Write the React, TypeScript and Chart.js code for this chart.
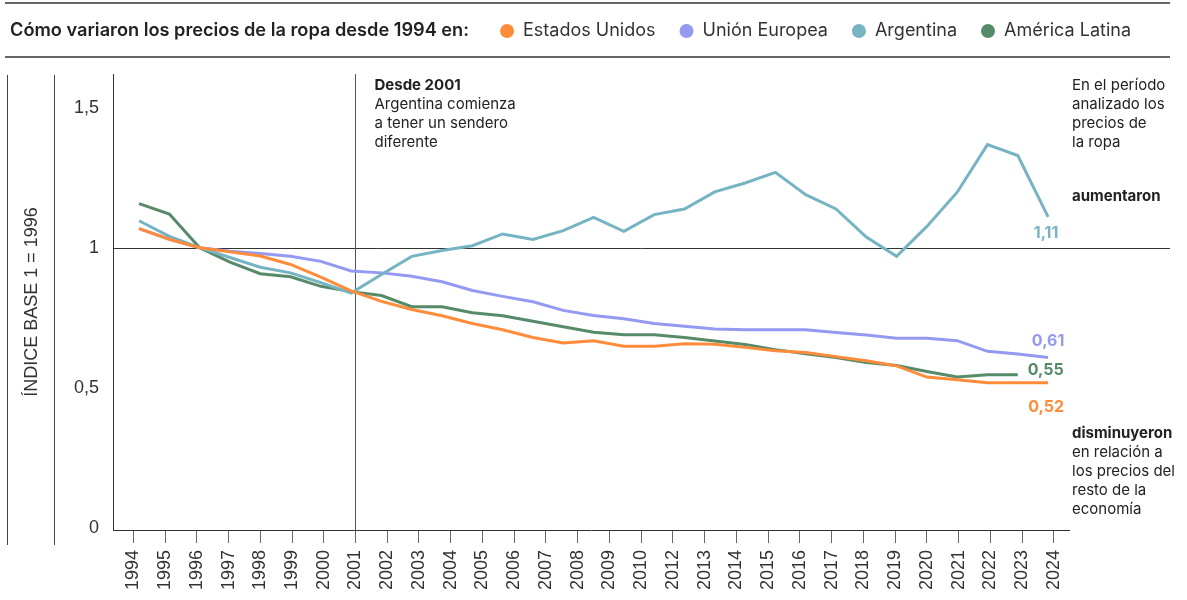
import React, { useEffect, useRef } from "react";
import { Chart, registerables } from "chart.js";

Chart.register(...registerables);

// ---- data ----
const years = [
  1994, 1995, 1996, 1997, 1998, 1999, 2000, 2001, 2002, 2003, 2004, 2005, 2006, 2007, 2008, 2009,
  2010, 2011, 2012, 2013, 2014, 2015, 2016, 2017, 2018, 2019, 2020, 2021, 2022, 2023, 2024,
];
const tickLabels = [
  "1994", "1995", "1996", "1997", "1998", "1999", "2000", "2001", "2002", "2003", "2004", "2005",
  "2006", "2007", "2008", "2009", "2010", "2012", "2013", "2014", "2015", "2016", "2017", "2018",
  "2019", "2020", "2021", "2022", "2023", "2024",
];
const estadosUnidos = [
  1.068, 1.03, 1.0, 0.985, 0.97, 0.94, 0.895, 0.846, 0.808, 0.779, 0.757, 0.729, 0.707, 0.679, 0.66,
  0.668, 0.648, 0.648, 0.657, 0.655, 0.644, 0.632, 0.626, 0.611, 0.596, 0.578, 0.538, 0.528, 0.518,
  0.518, 0.518,
];
const unionEuropea = [
  1.068, 1.03, 1.0, 0.987, 0.979, 0.969, 0.951, 0.917, 0.91, 0.898, 0.878, 0.847, 0.826, 0.807,
  0.776, 0.758, 0.746, 0.729, 0.719, 0.71, 0.707, 0.707, 0.707, 0.697, 0.688, 0.677, 0.677, 0.668,
  0.63, 0.62, 0.608,
];
const argentina = [
  1.096, 1.04, 1.0, 0.965, 0.93, 0.91, 0.875, 0.838, 0.904, 0.969, 0.99, 1.007, 1.049, 1.029, 1.061,
  1.108, 1.058, 1.118, 1.138, 1.199, 1.231, 1.269, 1.189, 1.138, 1.038, 0.969, 1.076, 1.198, 1.368,
  1.329, 1.11,
];
const americaLatina: (number | null)[] = [
  1.157, 1.12, 1.0, 0.948, 0.907, 0.896, 0.862, 0.843, 0.829, 0.789, 0.789, 0.768, 0.757, 0.737,
  0.718, 0.698, 0.689, 0.689, 0.679, 0.667, 0.654, 0.636, 0.621, 0.608, 0.59, 0.579, 0.558, 0.538,
  0.546, 0.546, null,
];
const yTickValues = [0, 0.5, 1, 1.5];
const seriesNames = ["Estados Unidos", "Unión Europea", "Argentina", "América Latina"];
const seriesColors = ["#FF8C3B", "#9499F2", "#76B3C3", "#578A68"];
const titleText = "Cómo variaron los precios de la ropa desde 1994 en:";
const yTitle = "ÍNDICE BASE 1 = 1996";
const noteLeft = ["Desde 2001", "Argentina comienza", "a tener un sendero", "diferente"];
const noteTop = ["En el período", "analizado los", "precios de", "la ropa"];
const noteUp = "aumentaron";
const noteDown = ["disminuyeron", "en relación a", "los precios del", "resto de la", "economía"];

const SANS = "Inter, 'Noto Sans', sans-serif";
const TICKFONT = "'Liberation Sans', Arial, sans-serif";

const fmt = (v: number) => v.toFixed(2).replace(".", ",");

const decorPlugin = {
  id: "decor",
  beforeDatasetsDraw(chart: any) {
    const { ctx, chartArea, scales } = chart;
    ctx.save();
    ctx.lineWidth = 1;
    ctx.strokeStyle = "#333";
    const y1 = Math.round(scales.y.getPixelForValue(1)) + 0.5;
    ctx.beginPath();
    ctx.moveTo(chartArea.left, y1);
    ctx.lineTo(1170, y1);
    ctx.stroke();
    const x01 = Math.round(scales.xt.getPixelForValue(tickLabels.indexOf("2001"))) + 0.5;
    ctx.strokeStyle = "#555";
    ctx.beginPath();
    ctx.moveTo(x01, chartArea.top);
    ctx.lineTo(x01, chartArea.bottom);
    ctx.stroke();
    ctx.restore();
  },
  afterDraw(chart: any) {
    const { ctx, chartArea, scales } = chart;
    ctx.save();
    // header rules
    ctx.strokeStyle = "#666";
    ctx.lineWidth = 2;
    ctx.beginPath();
    ctx.moveTo(5, 3);
    ctx.lineTo(1170, 3);
    ctx.moveTo(5, 57);
    ctx.lineTo(1170, 57);
    ctx.stroke();
    // header title
    ctx.textBaseline = "middle";
    ctx.textAlign = "left";
    ctx.fillStyle = "#222";
    ctx.font = `600 18.2px ${SANS}`;
    ctx.fillText(titleText, 10, 31);
    let x = 10 + ctx.measureText(titleText).width + 38;
    ctx.font = `400 18px ${SANS}`;
    seriesNames.forEach((name, i) => {
      ctx.fillStyle = seriesColors[i];
      ctx.beginPath();
      ctx.arc(x, 31, 7, 0, Math.PI * 2);
      ctx.fill();
      ctx.fillStyle = "#333";
      ctx.fillText(name, x + 16, 31);
      x += 16 + ctx.measureText(name).width + 31;
    });
    // left rules
    ctx.strokeStyle = "#444";
    ctx.lineWidth = 1;
    ctx.beginPath();
    ctx.moveTo(7.5, 75);
    ctx.lineTo(7.5, 545);
    ctx.moveTo(54.5, 75);
    ctx.lineTo(54.5, 545);
    ctx.stroke();
    // y title
    ctx.save();
    ctx.translate(32, 302);
    ctx.rotate(-Math.PI / 2);
    ctx.textAlign = "center";
    ctx.fillStyle = "#333";
    ctx.font = `400 18px ${TICKFONT}`;
    ctx.fillText(yTitle, 0, 0);
    ctx.restore();
    // note near 2001
    const x01 = scales.xt.getPixelForValue(tickLabels.indexOf("2001"));
    ctx.fillStyle = "#222";
    noteLeft.forEach((t, i) => {
      ctx.font = i === 0 ? `700 15px ${SANS}` : `400 15px ${SANS}`;
      ctx.fillText(t, x01 + 19, 85 + i * 19);
    });
    // right notes
    const rx = chartArea.right + 3;
    ctx.font = `400 15px ${SANS}`;
    noteTop.forEach((t, i) => ctx.fillText(t, rx, 85 + i * 19));
    ctx.font = `700 15px ${SANS}`;
    ctx.fillText(noteUp, rx, 196);
    noteDown.forEach((t, i) => {
      ctx.font = i === 0 ? `700 15px ${SANS}` : `400 15px ${SANS}`;
      ctx.fillText(t, rx, 433 + i * 19);
    });
    // end labels
    const series = [estadosUnidos, unionEuropea, argentina, americaLatina];
    const offsets = [
      { dx: -2, dy: 25, align: "center" },
      { dx: 0, dy: -16, align: "center" },
      { dx: -2, dy: 16, align: "center" },
      { dx: 10, dy: -5, align: "left" },
    ];
    ctx.font = `700 16px ${SANS}`;
    series.forEach((arr, i) => {
      let idx = arr.length - 1;
      while (idx >= 0 && arr[idx] == null) idx--;
      const v = arr[idx] as number;
      const px = scales.x.getPixelForValue(idx);
      const py = scales.y.getPixelForValue(v);
      ctx.fillStyle = seriesColors[i];
      ctx.textAlign = offsets[i].align as CanvasTextAlign;
      ctx.fillText(fmt(v), px + offsets[i].dx, py + offsets[i].dy);
    });
    ctx.restore();
  },
};

export default function App() {
  const ref = useRef<HTMLCanvasElement>(null);
  useEffect(() => {
    if (!ref.current) return;
    const seriesData = [estadosUnidos, unionEuropea, argentina, americaLatina];
    const chart = new Chart(ref.current, {
      type: "line",
      data: {
        datasets: seriesData.map((arr, i) => ({
          label: seriesNames[i],
          data: arr.map((v, j) => ({ x: j, y: v })),
          borderColor: seriesColors[i],
          backgroundColor: seriesColors[i],
          borderWidth: 3,
          pointRadius: 0,
          tension: 0,
          spanGaps: false,
          xAxisID: "x",
          yAxisID: "y",
          order: [0, 3, 1, 2][i],
        })) as any,
      },
      options: {
        responsive: false,
        animation: false,
        events: [],
        layout: { padding: { top: 74, right: 118, left: 0, bottom: 0 } },
        plugins: { legend: { display: false }, tooltip: { enabled: false } },
        scales: {
          x: {
            type: "linear",
            display: false,
            min: -0.86,
            max: 30.69,
          },
          xt: {
            type: "linear",
            position: "bottom",
            min: -0.64,
            max: 29.48,
            afterBuildTicks: (s: any) => {
              s.ticks = tickLabels.map((_, i) => ({ value: i }));
            },
            afterFit: (s: any) => {
              s.height = 70;
            },
            ticks: {
              autoSkip: false,
              minRotation: 90,
              maxRotation: 90,
              padding: 7,
              color: "#333",
              font: { family: TICKFONT, size: 18 },
              callback: (v: any) => tickLabels[Math.round(v)] ?? "",
            },
            grid: { drawOnChartArea: false, drawTicks: true, tickLength: 13, color: "#666" },
            border: { display: true, color: "#333", width: 1 },
          },
          y: {
            type: "linear",
            min: -0.008,
            max: 1.62,
            afterBuildTicks: (s: any) => {
              s.ticks = yTickValues.map((v) => ({ value: v }));
            },
            afterFit: (s: any) => {
              s.width = 113;
            },
            ticks: {
              padding: 14,
              color: "#333",
              font: { family: TICKFONT, size: 18 },
              callback: (v: any) => String(v).replace(".", ","),
            },
            grid: { display: false, drawTicks: false },
            border: { display: true, color: "#333", width: 1 },
          },
        },
      },
      plugins: [decorPlugin],
    });
    return () => chart.destroy();
  }, []);
  return (
    <div style={{ position: "absolute", left: 0, top: 0, width: 1187, height: 600, background: "#fff" }}>
      <canvas ref={ref} width={1187} height={600} style={{ display: "block" }} />
    </div>
  );
}
